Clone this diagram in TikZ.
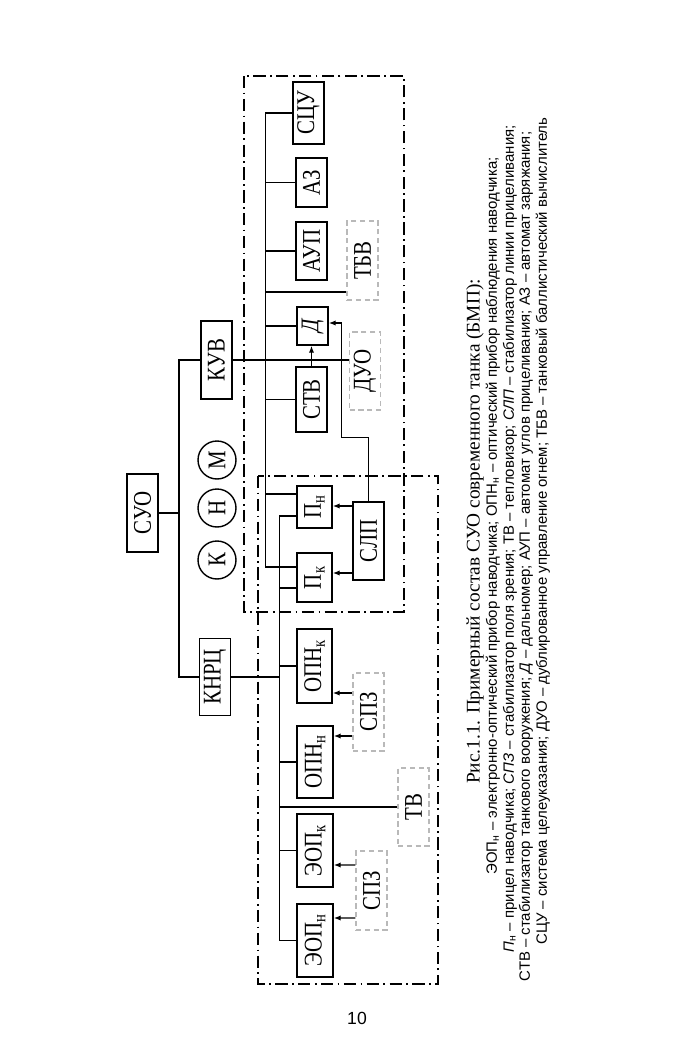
\documentclass[tikz,border=0pt]{standalone}
\usepackage{fontspec}
\setmainfont{Liberation Serif}
\newfontfamily\capsans{Liberation Sans}
\newfontfamily\blkserif[FakeStretch=0.82]{Liberation Serif}
\usepackage{graphicx}
\usetikzlibrary{calc,arrows.meta}
\newcommand{\vt}[1]{\rotatebox{90}{#1}}
\tikzset{
  blk/.style={draw, line width=0.8pt, inner sep=0pt, minimum width=0.62cm, font=\blkserif\fontsize{14.5}{15}\selectfont},
  aux/.style={blk, draw=gray!55, line width=0.6pt, dash pattern=on 3pt off 2pt},
  crc/.style={draw, circle, line width=0.8pt, inner sep=0pt, minimum size=0.76cm, font=\blkserif\fontsize{14.5}{15}\selectfont},
  grp/.style={line width=0.8pt, dash pattern=on 7pt off 2.5pt on 1pt off 2.5pt},
  arr/.style={-{Latex[length=4pt,width=3pt]}},
  capline/.style={rotate=90, inner sep=0pt, font=\capsans\fontsize{8.5}{9}\selectfont}
}
\begin{document}
\begin{tikzpicture}[x=0.02cm, y=-0.02cm, line width=0.7pt]
\useasboundingbox (0,0) rectangle (700,1045);

% top group
\node[blk, minimum height=1.24cm] (scu) at (308.5,113) {\vt{СЦУ}};
\node[blk, minimum height=0.98cm] (az) at (311.5,182.5) {\vt{АЗ}};
\node[blk, minimum height=1.16cm] (aup) at (311.5,251) {\vt{АУП}};
\node[aux, minimum height=1.58cm] (tbv) at (362.5,260.5) {\vt{ТБВ}};
\node[blk, minimum height=0.76cm] (d) at (312.5,326) {\vt{\itshape Д}};
\node[aux, minimum height=1.56cm] (duo) at (365,371) {\vt{ДУО}};
\node[blk, minimum height=1.30cm] (stv) at (311.5,399.5) {\vt{СТВ}};
\node[blk, minimum height=1.56cm] (kuv) at (216.5,360) {\vt{КУВ}};

% centre
\node[blk, minimum height=1.56cm] (suo) at (142.5,513) {\vt{СУО}};
\node[crc] (m) at (217,460) {\vt{М}};
\node[crc] (n) at (217,508) {\vt{Н}};
\node[crc] (k) at (217,560) {\vt{К}};

% sights
\node[blk, minimum width=0.70cm, minimum height=0.84cm] (pn) at (314.5,507) {\vt{П\textsubscript{н}}};
\node[blk, minimum width=0.70cm, minimum height=0.98cm] (pk) at (314.5,577.5) {\vt{П\textsubscript{к}}};
\node[blk, minimum height=1.56cm] (slp) at (368.5,541) {\vt{СЛП}};

% bottom group
\node[blk, minimum height=1.54cm] (knrc) at (215,677) {\vt{КНРЦ}};
\node[blk, minimum width=0.70cm, minimum height=1.48cm] (opnk) at (314.5,666) {\vt{ОПН\textsubscript{к}}};
\node[aux, minimum height=1.56cm] (spz1) at (368.5,712) {\vt{СПЗ}};
\node[blk, minimum width=0.72cm, minimum height=1.44cm] (opnn) at (315,762) {\vt{ОПН\textsubscript{н}}};
\node[aux, minimum height=1.56cm] (tv) at (413.5,807) {\vt{ТВ}};
\node[blk, minimum width=0.72cm, minimum height=1.46cm] (eopk) at (315,850.5) {\vt{ЭОП\textsubscript{к}}};
\node[aux, minimum height=1.58cm] (spz2) at (371.5,890.5) {\vt{СПЗ}};
\node[blk, minimum width=0.72cm, minimum height=1.46cm] (eopn) at (315,940.5) {\vt{ЭОП\textsubscript{н}}};

% dash-dot groups
\draw[grp] (244,76) rectangle (404,612);
\draw[grp] (258,476) rectangle (438,984);

% СУО to КУВ and КНРЦ
\coordinate (sj) at (179,513);
\draw (suo.east) -- (sj);
\draw (kuv.west) -| (sj) |- (knrc.west);

% upper bus
\coordinate (b1) at (266,113);
\draw (scu.west) -| ($(pk.west)+(-31,-10.5)$) -- ($(pk.west)+(0,-10.5)$);
\draw (az.west) -- (az.west -| b1);
\draw (aup.west) -- (aup.west -| b1);
\draw ($(tbv.west)+(0,31.5)$) -- ++(-81,0);
\draw (d.west) -- (d.west -| b1);
\draw (stv.west) -- (stv.west -| b1);
\draw ($(pn.west)+(0,-13)$) -- ++(-31,0);
\draw (kuv.east) -- (kuv.east -| duo.west);

% lower bus
\coordinate (b2) at (280,516);
\draw ($(pn.west)+(0,9)$) -- ++(-17,0) |- (eopn.west);
\draw ($(pk.west)+(0,10.5)$) -- ++(-17,0);
\draw (knrc.east) -- (knrc.east -| b2);
\draw (opnk.west) -- (opnk.west -| b2);
\draw (opnn.west) -- (opnn.west -| b2);
\draw (tv.west) -- (tv.west -| b2);
\draw (eopk.west) -- (eopk.west -| b2);

% arrows
\draw[arr] (stv.north) -- (stv.north |- d.south);
\draw[arr] (slp.north) -- ++(0,-64) -| ($(d.east)+(13,-3)$) -- ($(d.east)+(0,-3)$);
\draw[arr] ($(slp.west)+(0,-35)$) -- ($(pn.east)+(0,-1)$);
\draw[arr] ($(slp.west)+(0,32)$) -- ($(pk.east)+(0,-4.5)$);
\draw[arr] ($(spz1.west)+(0,-19)$) -- ($(opnk.east)+(0,27)$);
\draw[arr] ($(spz1.west)+(0,24)$) -- ($(opnn.east)+(0,-26)$);
\draw[arr] ($(spz2.west)+(0,-25.5)$) -- ($(eopk.east)+(0,14.5)$);
\draw[arr] ($(spz2.west)+(0,27.5)$) -- ($(eopn.east)+(0,-22.5)$);

% caption
\node[rotate=90, inner sep=0pt, font=\fontsize{11}{12}\selectfont] (cap1) at (475,531.5) {Рис.1.1. Примерный состав СУО современного танка (БМП):};
\node[capline] (cap2) at (493,516) {ЭОП\textsubscript{н} – электронно-оптический прибор наводчика; ОПН\textsubscript{н} – оптический прибор наблюдения наводчика;};
\node[capline] (cap3) at (510,539) {{\itshape П}\textsubscript{н} – прицел наводчика; {\itshape СПЗ} – стабилизатор поля зрения; ТВ – тепловизор; {\itshape СЛП} – стабилизатор линии прицеливания;};
\node[capline] (cap4) at (526,556.5) {СТВ – стабилизатор танкового вооружения; {\itshape Д} – дальномер; АУП – автомат углов прицеливания; АЗ – автомат заряжания;};
\node[capline] (cap5) at (543,531) {СЦУ – система целеуказания; ДУО – дублированное управление огнем; ТБВ – танковый баллистический вычислитель};

\node[font=\capsans\fontsize{10}{10}\selectfont] (pg) at (357,1018) {10};
\end{tikzpicture}
\end{document}
